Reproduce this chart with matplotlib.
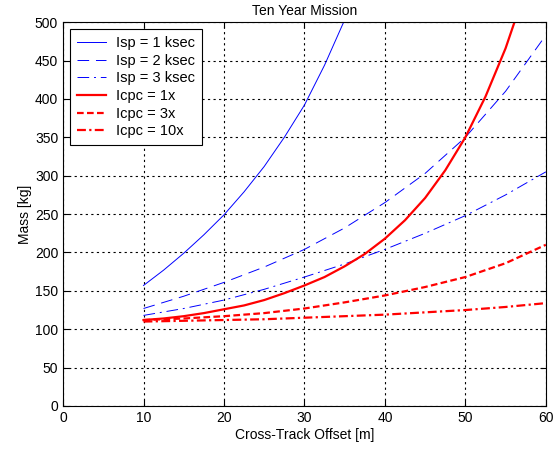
import matplotlib
matplotlib.use('Agg')
import matplotlib.pyplot as plt

plt.rcParams['font.family'] = ['Liberation Sans', 'DejaVu Sans']

# Cross-track offset [m]
offset = [10, 15, 20, 25, 30, 35, 40, 45, 50, 55, 60]
offset_fine = [10, 12.5, 15, 17.5, 20, 22.5, 25, 27.5, 30, 32.5, 35, 37.5,
               40, 42.5, 45, 47.5, 50, 52.5, 55, 57.5, 60]

# Mass [kg] for different specific impulse values
isp_1 = [157, 177, 199, 223, 249, 279, 312, 350, 392, 444, 503, 565]
isp_2 = [127, 143, 161, 181, 204, 232, 265, 303, 350, 410, 483]
isp_3 = [118, 127, 138, 152, 168, 185, 204, 225, 248, 275, 305]

# Mass [kg] for different Icpc multipliers
icpc_1 = [112, 114, 117, 121, 126, 131, 138, 147, 157, 168, 182, 198,
          218, 242, 271, 307, 350, 403, 466, 543, 637]
icpc_3 = [112, 114, 117, 121, 127, 135, 144, 155, 168, 186, 210]
icpc_10 = [110, 111, 112, 113, 115, 117, 119, 122, 125, 129, 134]

labels = ['Isp = 1 ksec', 'Isp = 2 ksec', 'Isp = 3 ksec',
          'Icpc = 1x', 'Icpc = 3x', 'Icpc = 10x']

fig = plt.figure(figsize=(5.53, 4.51), dpi=100)
ax = fig.add_axes([0.114, 0.0998, 0.873, 0.851])

ax.plot(offset_fine[:len(isp_1)], isp_1, color='blue', lw=0.7, ls='-', label=labels[0])
ax.plot(offset, isp_2, color='blue', lw=0.7, ls=(0, (12, 7)), label=labels[1])
ax.plot(offset, isp_3, color='blue', lw=0.7, ls=(0, (12, 5, 2, 5)), label=labels[2])
ax.plot(offset_fine, icpc_1, color='red', lw=1.6, ls='-', label=labels[3])
ax.plot(offset, icpc_3, color='red', lw=1.6, ls=(0, (3, 1.5)), label=labels[4])
ax.plot(offset, icpc_10, color='red', lw=1.6, ls=(0, (4, 1.5, 1, 1.5)), label=labels[5])

ax.set_xlim(0, 60)
ax.set_ylim(0, 500)
ax.set_xticks(range(0, 61, 10))
ax.set_yticks(range(0, 501, 50))
ax.tick_params(direction='in', labelsize=10, length=4, top=True, right=True)
ax.grid(True, color='black', ls=(0, (2, 3)), lw=0.8)
for s in ax.spines.values():
    s.set_linewidth(0.8)

ax.set_title('Ten Year Mission', fontsize=10, pad=5)
ax.set_xlabel('Cross-Track Offset [m]', fontsize=10, labelpad=2)
ax.set_ylabel('Mass [kg]', fontsize=10, labelpad=2)

leg = ax.legend(loc='upper left', fontsize=10.5, fancybox=False, framealpha=1,
                edgecolor='black', borderaxespad=0.5, handlelength=2.0,
                handletextpad=0.7, borderpad=0.45, labelspacing=0.25)
leg.get_frame().set_linewidth(0.8)

fig.savefig('out.png', dpi=100, facecolor='white')
